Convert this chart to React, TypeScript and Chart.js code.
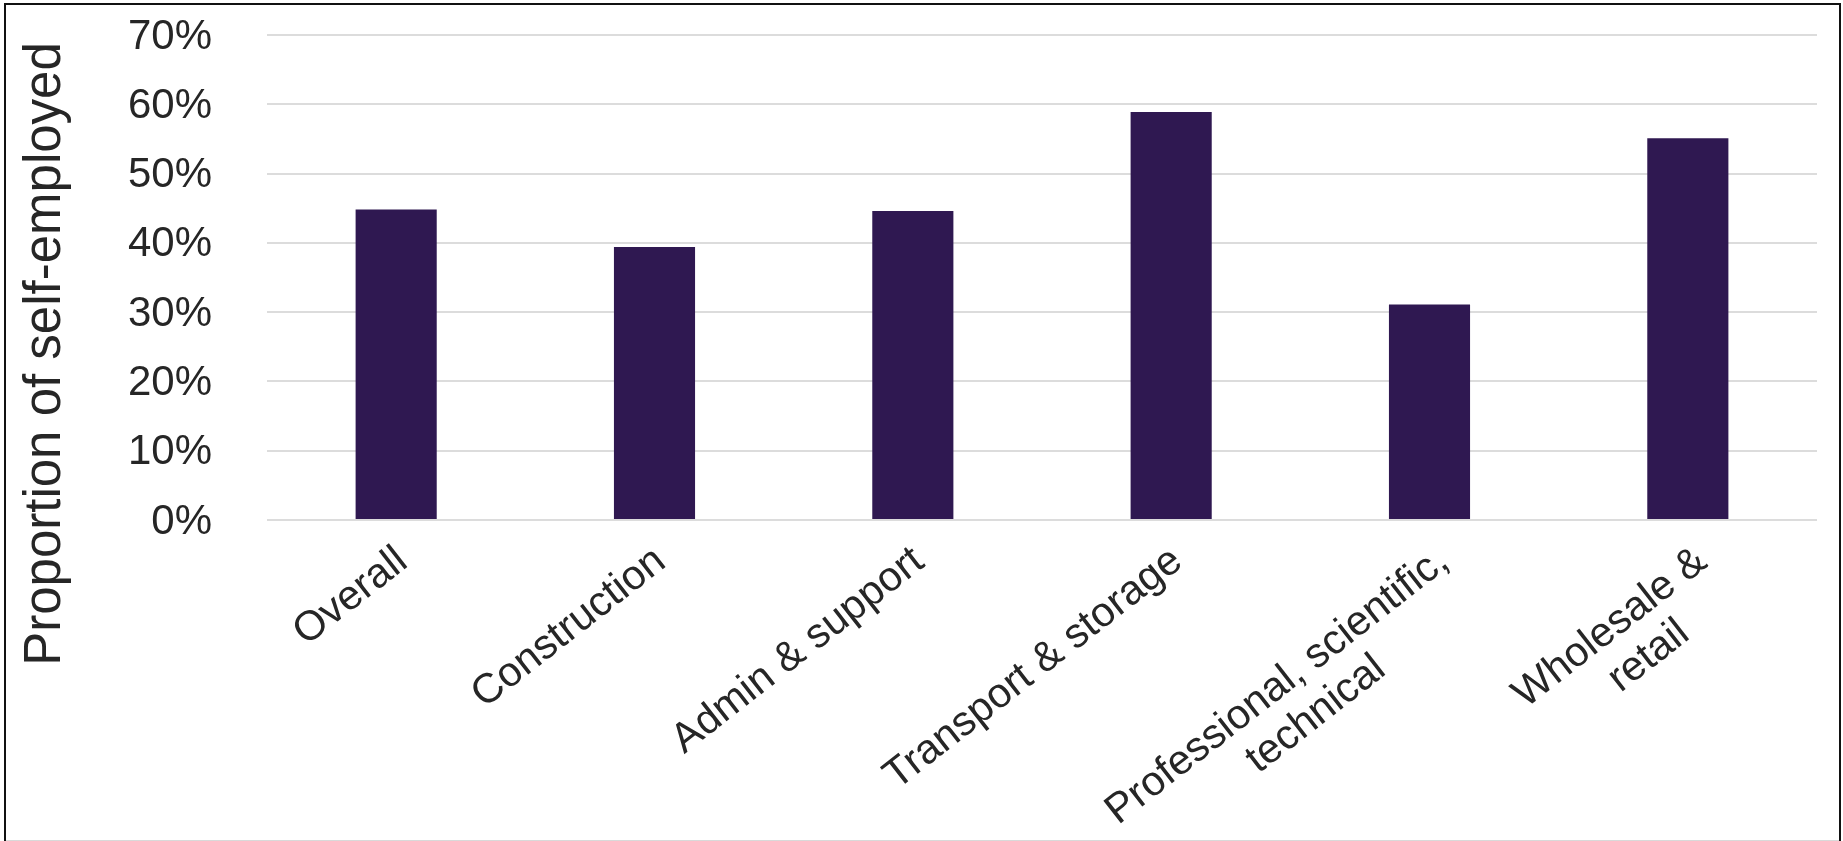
import React, { useEffect, useRef } from "react";
import { Chart, registerables } from "chart.js";

Chart.register(...registerables);

// ---- data ----
const categories: string[][] = [
  ["Overall"],
  ["Construction"],
  ["Admin & support"],
  ["Transport & storage"],
  ["Professional, scientific,", "technical"],
  ["Wholesale &", "retail"],
];
const selfEmployedPct: number[] = [44.8, 39.4, 44.6, 58.9, 31.1, 55.1];
const yTickValues: number[] = [0, 10, 20, 30, 40, 50, 60, 70];
const yTitle = "Proportion of self-employed";

// ---- style ----
const W = 1843;
const H = 841;
const FONT = '"Liberation Sans", Arial, Helvetica, sans-serif';
const TEXT = "#262626";
const BAR = "#2f1851";
const GRID = "#dcdcdc";
const X_FONT = 41.5;
const X_ROT = 38;
const X_LH = 46;

const bgFramePlugin = {
  id: "bgFrame",
  beforeDraw(chart: any) {
    const ctx = chart.ctx;
    ctx.save();
    ctx.fillStyle = "#ffffff";
    ctx.fillRect(0, 0, chart.width, chart.height);
    ctx.restore();
  },
  afterDraw(chart: any) {
    const ctx = chart.ctx;
    ctx.save();
    ctx.fillStyle = "#111111";
    ctx.fillRect(4, 3, 2, chart.height - 3);
    ctx.fillRect(4, 3, chart.width - 6, 2);
    ctx.fillRect(chart.width - 4, 3, 2, chart.height - 3);
    ctx.fillStyle = "#d9d9d9";
    ctx.fillRect(6, chart.height - 1, chart.width - 10, 1);
    ctx.restore();
  },
};

const xLabelPlugin = {
  id: "xLabels",
  afterDraw(chart: any) {
    const ctx = chart.ctx;
    const xs = chart.scales.x;
    ctx.save();
    ctx.font = `${X_FONT}px ${FONT}`;
    ctx.fillStyle = TEXT;
    ctx.textAlign = "center";
    ctx.textBaseline = "alphabetic";
    const cap = X_FONT * 0.716;
    categories.forEach((lines, i) => {
      const x = xs.getPixelForTick(i) - 5 + 8 * (lines.length - 1);
      const y = chart.chartArea.bottom + 22;
      const maxW = Math.max(...lines.map((l) => ctx.measureText(l).width));
      ctx.save();
      ctx.translate(x, y);
      ctx.rotate((-X_ROT * Math.PI) / 180);
      lines.forEach((l, j) => ctx.fillText(l, -maxW / 2 + (j > 0 ? 13 : 0), cap + j * X_LH));
      ctx.restore();
    });
    ctx.restore();
  },
};

const yTitlePlugin = {
  id: "yTitle",
  afterDraw(chart: any) {
    const ctx = chart.ctx;
    ctx.save();
    ctx.font = `51px ${FONT}`;
    ctx.fillStyle = TEXT;
    ctx.textAlign = "center";
    ctx.textBaseline = "alphabetic";
    ctx.translate(60, 354);
    ctx.rotate(-Math.PI / 2);
    ctx.fillText(yTitle, 0, 0);
    ctx.restore();
  },
};

export default function App() {
  const ref = useRef<HTMLCanvasElement | null>(null);

  useEffect(() => {
    document.body.style.margin = "0";
    document.body.style.overflow = "hidden";
    if (!ref.current) return;
    const chart = new Chart(ref.current, {
      type: "bar",
      data: {
        labels: categories,
        datasets: [
          {
            data: selfEmployedPct,
            backgroundColor: BAR,
            borderWidth: 0,
            barPercentage: 0.314,
            categoryPercentage: 1,
          },
        ],
      },
      options: {
        responsive: false,
        animation: false,
        devicePixelRatio: 1,
        layout: { autoPadding: false, padding: { top: 35, right: 26, bottom: 0, left: 0 } },
        plugins: {
          legend: { display: false },
          tooltip: { enabled: false },
          title: { display: false },
        },
        scales: {
          x: {
            grid: { display: false, drawTicks: false },
            border: { display: false },
            ticks: { display: false },
            afterFit: (s: any) => {
              s.height = 321;
              s.paddingLeft = 0;
              s.paddingRight = 0;
            },
          },
          y: {
            min: 0,
            max: 70,
            afterBuildTicks: (s: any) => {
              s.ticks = yTickValues.map((v) => ({ value: v }));
            },
            grid: { color: GRID, lineWidth: 2, drawTicks: false },
            border: { display: false },
            ticks: {
              padding: 55,
              labelOffset: 2,
              color: TEXT,
              font: { family: FONT, size: 42 },
              callback: (v: any) => `${v}%`,
            },
            afterFit: (s: any) => {
              s.width = 267;
              s.paddingTop = 0;
              s.paddingBottom = 0;
            },
          },
        },
      },
      plugins: [bgFramePlugin, xLabelPlugin, yTitlePlugin],
    });
    return () => chart.destroy();
  }, []);

  return (
    <div style={{ width: W, height: H, position: "relative" }}>
      <canvas ref={ref} width={W} height={H} style={{ display: "block", width: W, height: H }} />
    </div>
  );
}
